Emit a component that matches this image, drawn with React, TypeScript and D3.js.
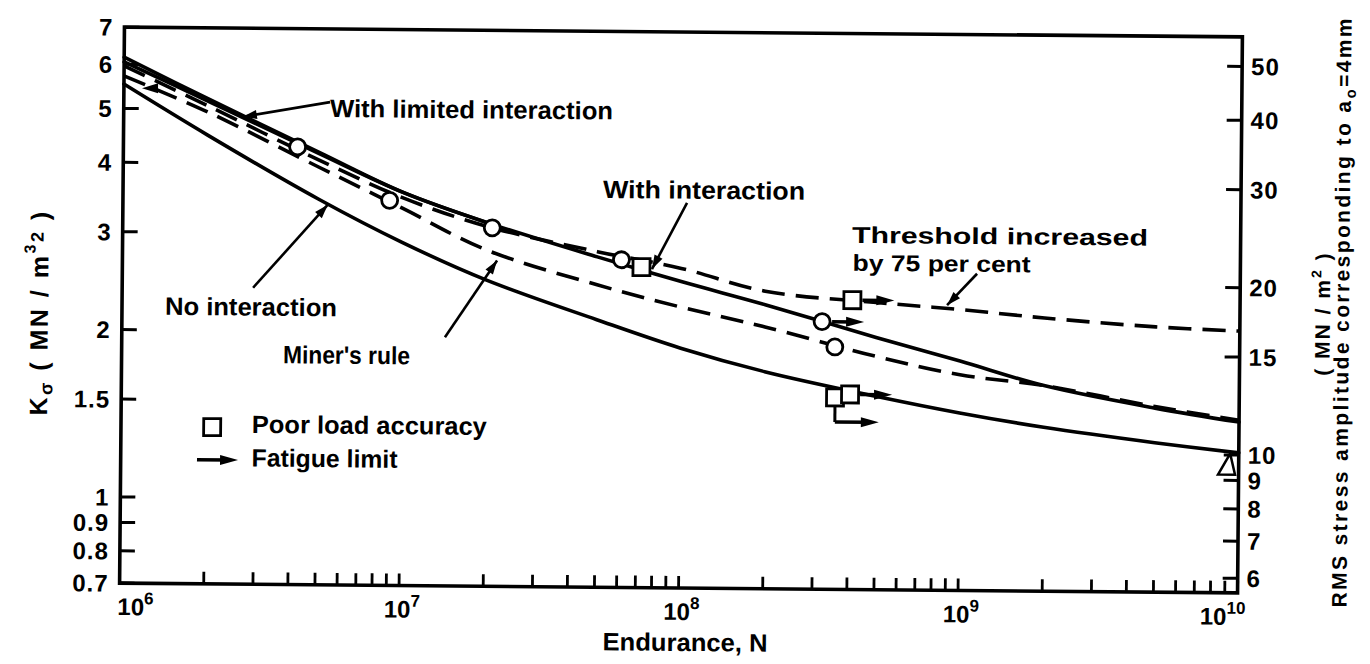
import React from "react";
import * as d3 from "d3";

// ---------------- DATA ----------------
const enduranceGrid = [1e6, 2e6, 5e6, 1e7, 2e7, 5e7, 1e8, 2e8, 5e8, 1e9, 2e9, 5e9, 1e10];
const withInteraction = [6.06, 5.17, 4.18, 3.57, 3.16, 2.75, 2.49, 2.27, 1.99, 1.81, 1.64, 1.5, 1.42];
const thresholdIncreased = [5.96, 5.07, 4.07, 3.49, 3.11, 2.81, 2.63, 2.4, 2.3, 2.24, 2.17, 2.1, 2.07];
const minersRule = [5.72, 4.94, 3.95, 3.34, 2.82, 2.45, 2.24, 2.07, 1.84, 1.71, 1.64, 1.51, 1.43];
const noInteraction = [5.53, 4.49, 3.46, 2.9, 2.49, 2.12, 1.89, 1.72, 1.56, 1.46, 1.38, 1.3, 1.25];
const limitedGrid = [1e6, 2e6, 5e6, 1e7, 2e7];
const limitedInteraction = [6.18, 5.22, 4.2, 3.57, 3.16];

const circleN = [4.2e6, 9.0e6, 2.1e7, 6.1e7, 3.2e8, 3.56e8];
const circleK = [4.29, 3.45, 3.09, 2.72, 2.12, 1.91];
const squareN = [7.2e7, 4.1e8, 3.58e8, 4.05e8];
const squareK = [2.64, 2.32, 1.55, 1.57];
const fatigueN = [3.2e8, 4.1e8, 4.05e8];
const fatigueK = [2.12, 2.32, 1.57];
const bentFatigue = { n: 3.58e8, k: 1.55, kTo: 1.4 };

const leftTicks = [7, 6, 5, 4, 3, 2, 1.5, 1, 0.9, 0.8, 0.7];
const leftTickLabels = ["7", "6", "5", "4", "3", "2", "1.5", "1", "0.9", "0.8", "0.7"];
const rightTicks = [50, 40, 30, 20, 15, 10, 9, 8, 7, 6];
const decadeExponents = [6, 7, 8, 9, 10];

// ---------------- LAYOUT ----------------
const W = 1370;
const H = 664;
const PL = 122, PR = 1240, PT = 32, PB = 588;
const FONT = "'Liberation Sans', Arial, sans-serif";

function head(x1: number, y1: number, x2: number, y2: number, len: number, hw: number) {
  const a = Math.atan2(y2 - y1, x2 - x1);
  const bx = x2 - len * Math.cos(a), by = y2 - len * Math.sin(a);
  const px = -Math.sin(a) * hw, py = Math.cos(a) * hw;
  return `${x2},${y2} ${bx + px},${by + py} ${bx - px},${by - py}`;
}

export default function App() {
  const x = d3.scaleLog().domain([1e6, 1e10]).range([PL, PR]);
  const yL = d3.scaleLog().domain([0.7, 7]).range([PB, PT]);
  const yR = d3.scaleLog().domain([5.65, 56.5]).range([PB, PT]);
  const line = d3
    .line<[number, number]>()
    .x((d) => x(d[0]))
    .y((d) => yL(d[1]))
    .curve(d3.curveCatmullRom.alpha(0.5));
  const series = (ks: number[], ns: number[] = enduranceGrid) =>
    line(ns.map((n, i) => [n, ks[i]] as [number, number])) || "";

  const minor: number[] = [];
  for (let d = 6; d < 10; d++) for (let m = 2; m <= 10; m++) minor.push(m * Math.pow(10, d));

  const pointer = (n1: number, k1: number, n2: number, k2: number, key: string) => {
    const x1 = x(n1), y1 = yL(k1), x2 = x(n2), y2 = yL(k2);
    return (
      <g key={key}>
        <line x1={x1} y1={y1} x2={x2} y2={y2} stroke="#000" strokeWidth={2.6} />
        <polygon points={head(x1, y1, x2, y2, 14, 4.5)} fill="#000" />
      </g>
    );
  };
  const fatigueArrow = (x0: number, y0: number, x1: number, key: string) => (
    <g key={key}>
      <line x1={x0} y1={y0} x2={x1 - 10} y2={y0} stroke="#000" strokeWidth={3.5} />
      <polygon points={head(x0, y0, x1, y0, 18, 5)} fill="#000" />
    </g>
  );

  const txt = { fontFamily: FONT, fontWeight: 700 as const, fill: "#000" };

  return (
    <svg width={W} height={H} style={{ position: "absolute", left: 0, top: 0, background: "#fff" }}>
      <rect x={0} y={0} width={W} height={H} fill="#fff" />
      <g transform="rotate(0.5, 681, 310)">
        {/* curves */}
        <g fill="none" stroke="#000" strokeWidth={3.6} strokeLinecap="round">
          <path d={series(limitedInteraction, limitedGrid)} />
          <path d={series(withInteraction)} />
          <path d={series(noInteraction)} />
          <path d={series(thresholdIncreased)} strokeDasharray="23 11" strokeLinecap="butt" />
          <path d={series(minersRule)} strokeDasharray="23 11" strokeLinecap="butt" />
        </g>

        {/* frame */}
        <rect x={PL} y={PT} width={PR - PL} height={PB - PT} fill="none" stroke="#000" strokeWidth={3.6} />

        {/* left ticks */}
        {leftTicks.map((v, i) => (
          <g key={"l" + v}>
            <line x1={PL} x2={PL + 15} y1={yL(v)} y2={yL(v)} stroke="#000" strokeWidth={3} />
            <text x={PL - 11} y={yL(v)} dy="0.36em" textAnchor="end" fontSize={24} letterSpacing={1} {...txt}>
              {leftTickLabels[i]}
            </text>
          </g>
        ))}
        {/* right ticks */}
        {rightTicks.map((v) => (
          <g key={"r" + v}>
            <line x1={PR - 15} x2={PR} y1={yR(v)} y2={yR(v)} stroke="#000" strokeWidth={3} />
            <text x={PR + 9} y={yR(v)} dy="0.36em" textAnchor="start" fontSize={24} letterSpacing={1} {...txt}>
              {v}
            </text>
          </g>
        ))}
        {/* bottom ticks */}
        {minor.map((v) => (
          <line key={"b" + v} x1={x(v)} x2={x(v)} y1={PB} y2={PB - 12} stroke="#000" strokeWidth={2.8} />
        ))}
        {decadeExponents.map((e, i) => {
          const px = x(Math.pow(10, e));
          const anchor = i === 0 ? "start" : i === decadeExponents.length - 1 ? "end" : "middle";
          const ax = i === 0 ? px - 2 : i === decadeExponents.length - 1 ? px + 8 : px + 3;
          return (
            <text key={"d" + e} x={ax} y={PB + 32} textAnchor={anchor} fontSize={24} {...txt}>
              10
              <tspan fontSize={17} dy={-11}>
                {e}
              </tspan>
            </text>
          );
        })}

        {/* axis titles */}
        <text x={688} y={651} textAnchor="middle" fontSize={25} textLength={165} lengthAdjust="spacingAndGlyphs" {...txt}>
          Endurance, N
        </text>
        <text transform="translate(48,318) rotate(-90)" textAnchor="middle" fontSize={25} letterSpacing={2.5} {...txt}>
          K
          <tspan fontSize={18} dy={5}>σ</tspan>
          <tspan dy={-5}>{"  ( MN / m"}</tspan>
          <tspan fontSize={16} dy={-13}>3</tspan>
          <tspan fontSize={18} dy={8}>2</tspan>
          <tspan dy={5}>{" )"}</tspan>
        </text>
        <text transform="translate(1349,306) rotate(-90)" textAnchor="middle" fontSize={21} letterSpacing={2.4} {...txt}>
          RMS stress amplitude corresponding to a
          <tspan fontSize={15} dy={5}>o</tspan>
          <tspan dy={-5}>=4mm</tspan>
        </text>
        <text transform="translate(1330,308) rotate(-90)" textAnchor="middle" fontSize={21} letterSpacing={2} {...txt}>
          {"( MN / m"}
          <tspan fontSize={14} dy={-9}>2</tspan>
          <tspan dy={9}>{" )"}</tspan>
        </text>

        {/* markers */}
        {circleN.map((n, i) => (
          <circle key={"c" + i} cx={x(n)} cy={yL(circleK[i])} r={8} fill="#fff" stroke="#000" strokeWidth={2.8} />
        ))}
        {squareN.map((n, i) => (
          <rect key={"s" + i} x={x(n) - 8.5} y={yL(squareK[i]) - 8.5} width={17} height={17} fill="#fff" stroke="#000" strokeWidth={2.8} />
        ))}

        {/* fatigue-limit arrows */}
        {fatigueN.map((n, i) => fatigueArrow(x(n) + 10, yL(fatigueK[i]), x(n) + 42, "f" + i))}
        <path
          d={`M${x(bentFatigue.n)},${yL(bentFatigue.k) + 9} V${yL(bentFatigue.kTo)}`}
          stroke="#000"
          strokeWidth={3}
          fill="none"
        />
        {fatigueArrow(x(bentFatigue.n), yL(bentFatigue.kTo), x(bentFatigue.n) + 44, "fb")}
        <polygon points={head(x(1.24e6) + 10, yL(5.44), x(1.24e6) - 8, yL(5.44), 16, 5)} fill="#000" />
        <polygon
          points={`${x(9.09e9) - 9},${yL(1.19) + 10} ${x(9.09e9) + 8},${yL(1.19) + 10} ${x(9.09e9) + 3},${yL(1.19) - 11}`}
          fill="none"
          stroke="#000"
          strokeWidth={2.5}
        />

        {/* annotations */}
        <text x={x(5.47e6)} y={yL(4.86)} fontSize={25} textLength={283} lengthAdjust="spacingAndGlyphs" {...txt}>
          With limited interaction
        </text>
        {pointer(5.47e6, 5.17, 2.67e6, 4.85, "p1")}
        <text x={x(5.22e7)} y={yL(3.51)} fontSize={25} textLength={202} lengthAdjust="spacingAndGlyphs" {...txt}>
          With interaction
        </text>
        {pointer(1.043e8, 3.45, 7.85e7, 2.62, "p2")}
        <text x={x(4.07e8)} y={yL(2.94)} fontSize={23} textLength={296} lengthAdjust="spacingAndGlyphs" {...txt}>
          Threshold increased
        </text>
        <text x={x(4.1e8)} y={yL(2.62)} fontSize={23} textLength={178} lengthAdjust="spacingAndGlyphs" {...txt}>
          by 75 per cent
        </text>
        {pointer(1.143e9, 2.6, 8.95e8, 2.28, "p3")}
        <text x={x(1.425e6)} y={yL(2.13)} fontSize={25} textLength={172} lengthAdjust="spacingAndGlyphs" {...txt}>
          No interaction
        </text>
        {pointer(2.94e6, 2.39, 5.41e6, 3.38, "p4")}
        <text x={x(3.78e6)} y={yL(1.75)} fontSize={25} textLength={127} lengthAdjust="spacingAndGlyphs" {...txt}>
          Miner's rule
        </text>
        {pointer(1.433e7, 1.96, 2.19e7, 2.7, "p5")}

        {/* legend */}
        <rect x={x(2.12e6) - 8.5} y={yL(1.34) - 8.5} width={17} height={17} fill="#fff" stroke="#000" strokeWidth={2.8} />
        <text x={x(2.94e6)} y={yL(1.31)} fontSize={25} textLength={235} lengthAdjust="spacingAndGlyphs" {...txt}>
          Poor load accuracy
        </text>
        {fatigueArrow(x(1.875e6), yL(1.17), x(2.63e6), "lg")}
        <text x={x(2.94e6)} y={yL(1.14)} fontSize={25} textLength={146} lengthAdjust="spacingAndGlyphs" {...txt}>
          Fatigue limit
        </text>
      </g>
    </svg>
  );
}
